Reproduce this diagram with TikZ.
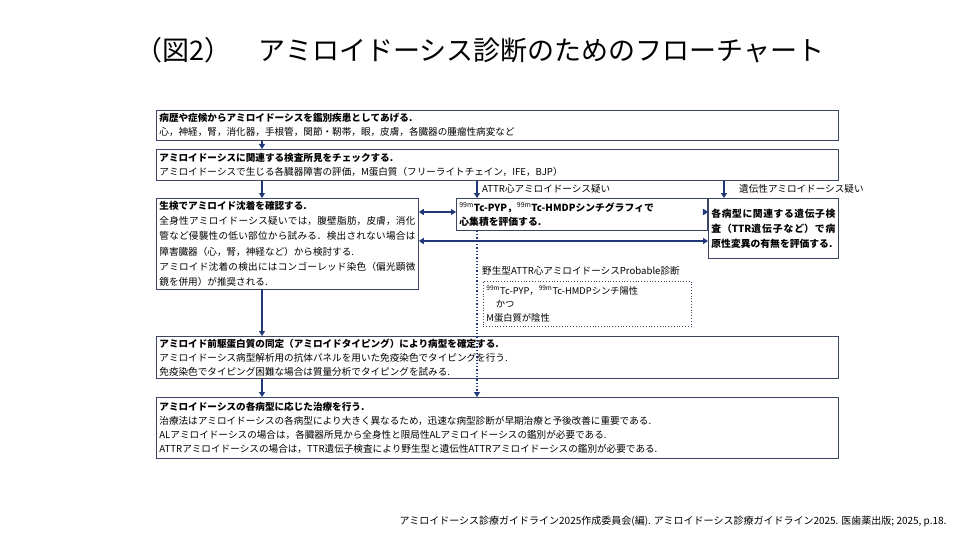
\documentclass[tikz,border=0pt]{standalone}
\usepackage{fontspec}
\setmainfont{Noto Sans CJK JP}
\XeTeXlinebreaklocale "ja"
\XeTeXlinebreakskip=0pt plus 1pt
\usetikzlibrary{arrows.meta}
\definecolor{ab}{RGB}{32,56,120}
\definecolor{bd}{RGB}{60,70,100}
\begin{document}
\begin{tikzpicture}[x=1pt,y=-1pt,
 box/.style={draw=bd,line width=0.8pt,anchor=north west,inner sep=2.5pt,align=justify,font=\fontsize{9.6}{14}\selectfont},
 arr/.style={draw=ab,line width=1.3pt,-{Triangle[length=5pt,width=6pt]}},
 darr/.style={draw=ab,line width=1.3pt,{Triangle[length=5pt,width=6pt]}-{Triangle[length=5pt,width=6pt]}},
 dot/.style={draw=ab,line width=1.3pt,dotted,-{Triangle[length=5pt,width=6pt]}},
 lab/.style={anchor=west,font=\fontsize{9.6}{12}\selectfont,inner sep=1pt}]
\useasboundingbox (0,0) rectangle (960,540);
\node[anchor=center,font=\fontsize{27}{30}\selectfont] (title) at (480,50) {（図2）\quad アミロイドーシス診断のためのフローチャート};
\node[box,minimum width=682,minimum height=30,text width=676,align=left] (b1) at (156,110) {\textbf{病歴や症候からアミロイドーシスを鑑別疾患としてあげる.}\\心，神経，腎，消化器，手根管，関節・靭帯，眼，皮膚，各臓器の腫瘤性病変など};
\node[box,minimum width=682,minimum height=31,text width=676,align=left] (b2) at (156,149) {\textbf{アミロイドーシスに関連する検査所見をチェックする.}\\アミロイドーシスで生じる各臓器障害の評価，M蛋白質（フリーライトチェイン，IFE，BJP）};
\node[box,minimum width=262,minimum height=90,text width=256,font=\fontsize{9.6}{15.3}\selectfont] (b3) at (156,198) {\textbf{生検でアミロイド沈着を確認する.}\\全身性アミロイドーシス疑いでは，腹壁脂肪，皮膚，消化管など侵襲性の低い部位から試みる．検出されない場合は障害臓器（心，腎，神経など）から検討する.\\アミロイド沈着の検出にはコンゴーレッド染色（偏光顕微鏡を併用）が推奨される.};
\node[box,minimum width=251,minimum height=32,text width=245,align=left,font=\fontsize{9.8}{14}\selectfont\bfseries] (b4) at (456,198) {$^{\mathrm{99m}}$Tc-PYP，$^{\mathrm{99m}}$Tc-HMDPシンチグラフィで\\心集積を評価する.};
\node[box,minimum width=130,minimum height=60,text width=124,font=\fontsize{9.8}{15}\selectfont\bfseries] (b5) at (708,198) {各病型に関連する遺伝子検査（\textit{TTR}遺伝子など）で病原性変異の有無を評価する.};
\node[box,draw=bd,dotted,line width=0.9pt,minimum width=208,minimum height=45,text width=202,align=left,inner sep=2pt,font=\fontsize{9.3}{13.5}\selectfont] (b8) at (483,281) {$^{\mathrm{99m}}$Tc-PYP，$^{\mathrm{99m}}$Tc-HMDPシンチ陽性\\\quad かつ\\M蛋白質が陰性};
\node[box,minimum width=682,minimum height=42,text width=676,align=left] (b6) at (156,336) {\textbf{アミロイド前駆蛋白質の同定（アミロイドタイピング）により病型を確定する.}\\アミロイドーシス病型解析用の抗体パネルを用いた免疫染色でタイピングを行う.\\免疫染色でタイピング困難な場合は質量分析でタイピングを試みる.};
\node[box,minimum width=682,minimum height=61,text width=676,align=left] (b7) at (156,397) {\textbf{アミロイドーシスの各病型に応じた治療を行う.}\\治療法はアミロイドーシスの各病型により大きく異なるため，迅速な病型診断が早期治療と予後改善に重要である.\\ALアミロイドーシスの場合は，各臓器所見から全身性と限局性ALアミロイドーシスの鑑別が必要である.\\ATTRアミロイドーシスの場合は，\textit{TTR}遺伝子検査により野生型と遺伝性ATTRアミロイドーシスの鑑別が必要である.};
\node[lab] (l1) at (481,189) {ATTR心アミロイドーシス疑い};
\node[lab] (l2) at (738,189) {遺伝性アミロイドーシス疑い};
\node[lab] (l3) at (481,271) {野生型ATTR心アミロイドーシスProbable診断};
\node[anchor=east,font=\fontsize{10}{12}\selectfont] (cite) at (950,521) {アミロイドーシス診療ガイドライン2025作成委員会(編). アミロイドーシス診療ガイドライン2025. 医歯薬出版; 2025, p.18.};
\draw[arr] (b1.south -| 262,0) -- (b2.north -| 262,0);
\draw[arr] (b2.south -| 262,0) -- (b3.north -| 262,0);
\draw[arr] (b2.south -| 477,0) -- (b4.north -| 477,0);
\draw[arr] (b2.south -| 724,0) -- (b5.north -| 724,0);
\draw[darr] (b3.east |- 0,212) -- (b4.west |- 0,212);
\draw[darr] (b4.east |- 0,212) -- (b5.west |- 0,212);
\draw[darr] (b3.east |- 0,241) -- (b5.west |- 0,241);
\draw[arr] (b3.south -| 262,0) -- (b6.north -| 262,0);
\draw[arr] (b6.south -| 262,0) -- (b7.north -| 262,0);
\draw[dot] (b4.south -| 477,0) -- (b7.north -| 477,0);
\end{tikzpicture}
\end{document}
